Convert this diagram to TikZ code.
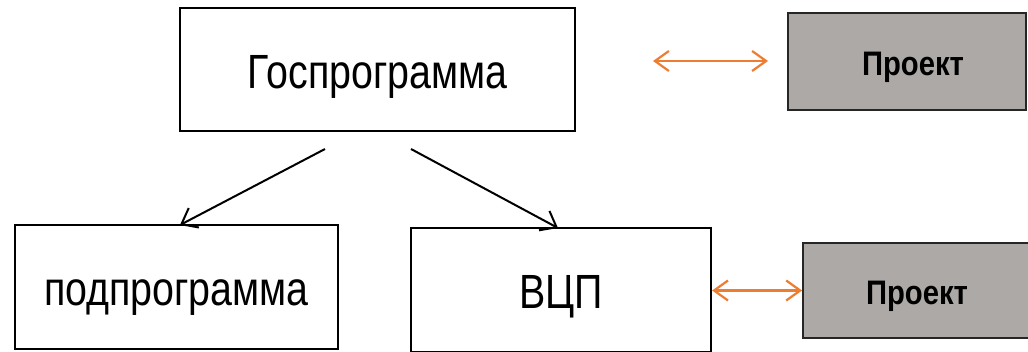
\documentclass[tikz,border=0pt]{standalone}
\usepackage{fontspec}
\setmainfont{Liberation Sans}
\newfontfamily\narrowfont[FakeStretch=0.82]{Liberation Sans}
\newfontfamily\narrowboldfont[FakeStretch=0.86]{Liberation Sans Bold}
\usetikzlibrary{arrows.meta}
\definecolor{projgray}{HTML}{ADA9A7}
\definecolor{linkorange}{HTML}{ED7D31}
\tikzset{
  whitebox/.style={draw=black, line width=2.2pt, fill=white, inner sep=0pt, text height=40pt, text depth=3pt, font=\narrowfont\fontsize{48}{54}\selectfont},
  projbox/.style={draw=black!85, line width=1.8pt, fill=projgray, inner sep=0pt, text height=30pt, text depth=2pt, font=\narrowboldfont\fontsize{34}{40}\selectfont},
  blackarrow/.style={line width=2pt, -{Straight Barb[length=14pt,width=22pt,line width=2pt]}},
  orangearrow/.style={draw=linkorange, line width=2.2pt, {Straight Barb[length=14pt,width=20pt,line width=2.2pt]}-{Straight Barb[length=14pt,width=20pt,line width=2.2pt]}}
}
\begin{document}
\begin{tikzpicture}[x=1pt,y=-1pt]
\useasboundingbox (0,0) rectangle (1028,351);
\clip (0,0) rectangle (1028,351);
\node[whitebox, minimum width=395pt, minimum height=123pt] (gos) at (377.5,69.5) {Госпрограмма};
\node[projbox, minimum width=238pt, minimum height=97pt] (proj1) at (907,61.5) {\hspace{12pt}Проект};
\node[whitebox, minimum width=323pt, minimum height=124pt] (sub) at (176.5,287) {подпрограмма};
\node[whitebox, minimum width=300pt, minimum height=124pt] (vcp) at (561,290) {ВЦП};
\node[projbox, minimum width=228pt, minimum height=95pt] (proj2) at (917,290.5) {Проект};
\coordinate (ls) at (325,149);
\coordinate (lt) at (180,225);
\coordinate (rs) at (411,149);
\coordinate (rt) at (558,228);
\coordinate (oa) at (653,61);
\coordinate (ob) at (768,61);
\draw[blackarrow] (ls) -- (lt);
\draw[blackarrow] (rs) -- (rt);
\draw[orangearrow] (oa) -- (ob);
\draw[orangearrow] (vcp.east |- proj2.west) -- (proj2.west);
\end{tikzpicture}
\end{document}
